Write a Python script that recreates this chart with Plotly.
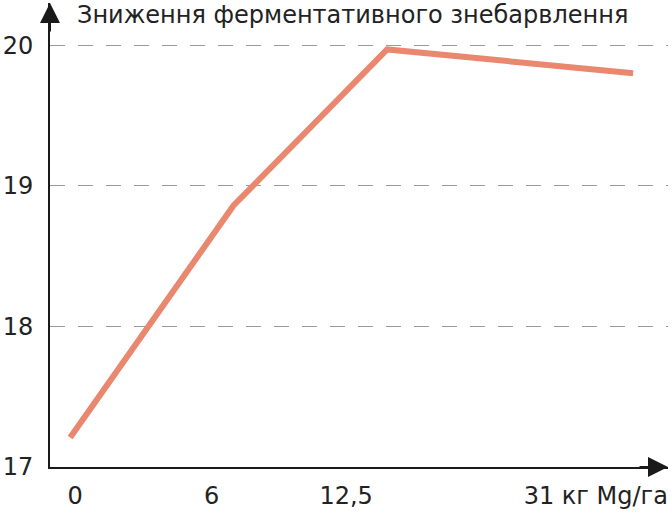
import plotly.graph_objects as go

# doses of Mg (kg/ha) and the measured decrease of enzymatic discoloration
dose_labels = ["0", "6", "12,5", "31 кг Mg/га"]
# horizontal placement of each dose on the schematic axis
dose_pos = [0.33, 3.0, 5.51, 9.53]
label_pos = [0.41, 2.64, 4.84, 8.92]
decrease = [17.21, 18.86, 19.97, 19.80]
y_ticks = [17, 18, 19, 20]

title_text = "Зниження ферментативного знебарвлення"

font_name = "DejaVu Sans"
text_color = "#222222"
line_color = "#E9876F"
axis_color = "#1a1a1a"

fig = go.Figure()

fig.add_trace(go.Scatter(
    x=dose_pos, y=decrease,
    mode="lines",
    line=dict(color=line_color, width=6),
    hoverinfo="skip",
    showlegend=False,
))

fig.update_layout(
    width=672, height=515,
    margin=dict(l=50, r=4, t=3, b=48),
    paper_bgcolor="white",
    plot_bgcolor="white",
    font=dict(family=font_name, size=24, color=text_color),
    xaxis=dict(
        range=[0, 10.1],
        tickvals=label_pos,
        ticktext=dose_labels,
        showgrid=False,
        zeroline=False,
        showline=True,
        linecolor=axis_color,
        linewidth=2,
        ticks="",
        ticklabelstandoff=6,
        automargin=False,
        fixedrange=True,
    ),
    yaxis=dict(
        range=[17, 20.3],
        tickvals=y_ticks,
        showgrid=True,
        gridcolor="#9a9a9a",
        gridwidth=1,
        griddash="15px,13px",
        zeroline=False,
        showline=True,
        linecolor=axis_color,
        linewidth=2,
        ticks="",
        ticklabelstandoff=10,
        automargin=False,
        fixedrange=True,
    ),
)

# arrow heads at the ends of the axes
fig.add_annotation(
    x=0, y=1, xref="x domain", yref="y domain",
    ax=0, ay=30,
    showarrow=True, arrowhead=2, arrowsize=2, arrowwidth=2,
    arrowcolor=axis_color, standoff=0, text="",
)
fig.add_annotation(
    x=1, y=0, xref="x domain", yref="y domain",
    ax=-30, ay=0,
    showarrow=True, arrowhead=2, arrowsize=2, arrowwidth=2,
    arrowcolor=axis_color, standoff=0, text="",
)

fig.add_annotation(
    x=0.04, y=1.0, xref="x domain", yref="y domain",
    xanchor="left", yanchor="top", yshift=4,
    text=title_text, showarrow=False,
    font=dict(family=font_name, size=24, color=text_color),
)

# drop the browser's default page margin so the figure sits at the corner
fig.write_html(
    "out.html",
    config={"displayModeBar": False, "staticPlot": True},
    post_script="document.body.style.margin = '0';",
)
